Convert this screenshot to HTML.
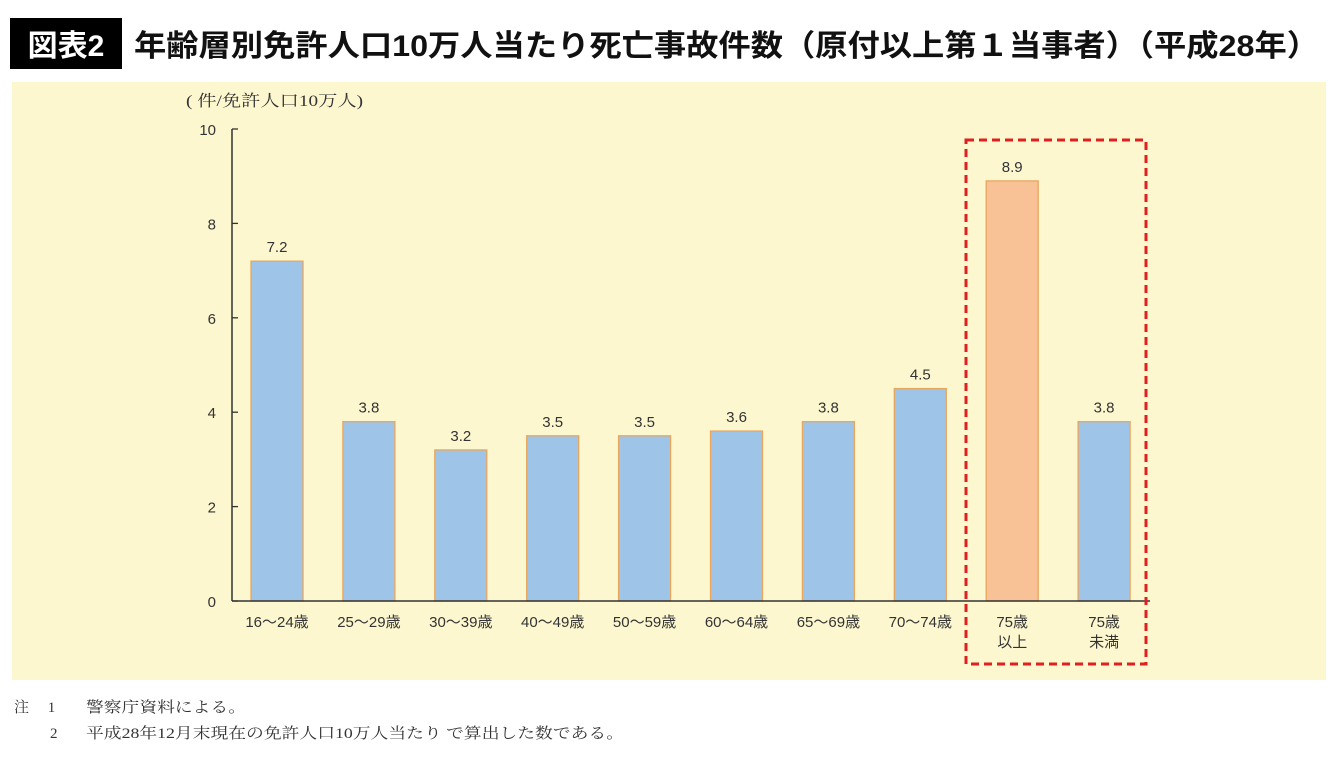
<!DOCTYPE html>
<html><head><meta charset="utf-8"><style>
body{margin:0;background:#fff;width:1340px;height:763px;overflow:hidden;font-family:"Liberation Sans","Noto Sans CJK JP",sans-serif;}
</style></head><body>
<svg width="1340" height="763" xmlns="http://www.w3.org/2000/svg" style="font-family:'Liberation Sans','Noto Sans CJK JP',sans-serif">
<rect x="10" y="18" width="112" height="51" fill="#000"/>
<text x="66" y="56" text-anchor="middle" fill="#fff" font-size="30" font-weight="bold">図表2</text>
<text x="134" y="56" fill="#111" font-size="30" font-weight="bold" textLength="1185" lengthAdjust="spacingAndGlyphs">年齢層別免許人口10万人当たり死亡事故件数（原付以上第１当事者）（平成28年）</text>
<rect x="12" y="82" width="1314" height="598" fill="#fdf7d0"/>
<text x="186" y="106" font-size="16" fill="#333" font-family="'Liberation Serif','Noto Serif CJK SC',serif" textLength="177" lengthAdjust="spacingAndGlyphs">( 件/免許人口10万人)</text>
<g id="chart"></g>
<rect x="966" y="140" width="180" height="524" fill="none" stroke="#e02020" stroke-width="3" stroke-dasharray="8,5"/>
<text x="14" y="712" font-size="15" fill="#333" font-family="'Liberation Serif','Noto Serif CJK SC',serif">注　 1</text>
<text x="86" y="712" font-size="15" fill="#333" font-family="'Liberation Serif','Noto Serif CJK SC',serif" textLength="160" lengthAdjust="spacingAndGlyphs">警察庁資料による。</text>
<text x="50" y="738" font-size="15" fill="#333" font-family="'Liberation Serif','Noto Serif CJK SC',serif">2</text>
<text x="86" y="738" font-size="15" fill="#333" font-family="'Liberation Serif','Noto Serif CJK SC',serif" textLength="538" lengthAdjust="spacingAndGlyphs">平成28年12月末現在の免許人口10万人当たり で算出した数である。</text>
</svg>
<script>
const categories=[["16〜24歳"],["25〜29歳"],["30〜39歳"],["40〜49歳"],["50〜59歳"],["60〜64歳"],["65〜69歳"],["70〜74歳"],["75歳","以上"],["75歳","未満"]];
const values=[7.2,3.8,3.2,3.5,3.5,3.6,3.8,4.5,8.9,3.8];
const valueLabels=["7.2","3.8","3.2","3.5","3.5","3.6","3.8","4.5","8.9","3.8"];
const highlight=[false,false,false,false,false,false,false,false,true,false];
const yTicks=[0,2,4,6,8,10];
const NS="http://www.w3.org/2000/svg";
const g=document.getElementById('chart');
const x0=232,x1=1150,yBase=601,yTop=129;
const y=v=>yBase-(v/10)*(yBase-yTop);
const step=91.9,first=277;
const xc=i=>first+i*step;
function mk(t,a){const e=document.createElementNS(NS,t);for(const k in a)e.setAttribute(k,a[k]);g.appendChild(e);return e;}
yTicks.forEach(t=>{
 const l=mk('line',{x1:x0,x2:x0+6,y1:y(t),y2:y(t),stroke:'#333','stroke-width':1.3});
 
 
 const tx=mk('text',{x:216,y:y(t)+6,'text-anchor':'end','font-size':15,fill:'#333'});
 tx.textContent=t;
 
 
});
values.forEach((v,i)=>{
 const r=mk('rect',{x:xc(i)-26,y:y(v),width:52,height:yBase-y(v),fill:highlight[i]?'#f9c196':'#9ec5e8',stroke:'#e8a65f','stroke-width':1.3});
 
 
 const t=mk('text',{x:xc(i),y:y(v)-9,'text-anchor':'middle','font-size':15,fill:'#333'});
 t.textContent=valueLabels[i];
 
 
 categories[i].forEach((s,j)=>{
  const c=mk('text',{x:xc(i),y:627+j*20,'text-anchor':'middle','font-size':15,fill:'#333'});
  c.textContent=s;
  
  
 });
});
const ax=mk('line',{x1:x0,x2:x0,y1:yTop,y2:yBase,stroke:'#333','stroke-width':1.5});


const bx=mk('line',{x1:x0,x2:x1,y1:yBase,y2:yBase,stroke:'#333','stroke-width':1.5});


</script>
</body></html>
